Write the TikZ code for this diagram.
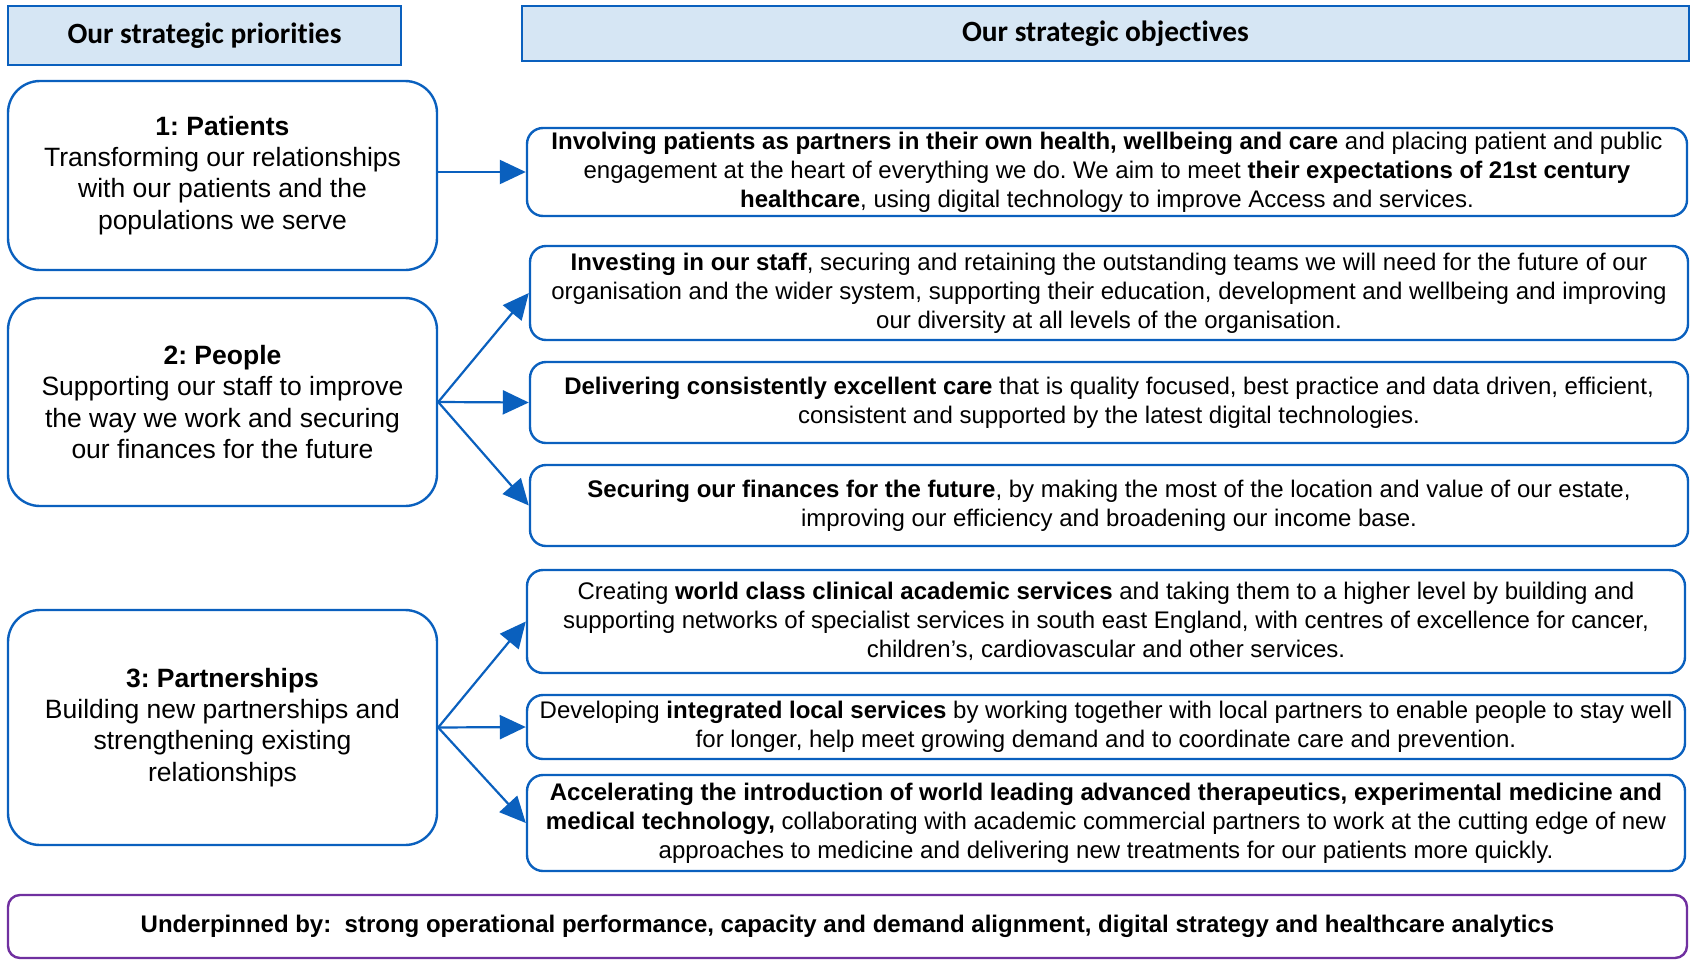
\documentclass[tikz,border=0pt]{standalone}
\usepackage{fontspec}
\setmainfont{Liberation Sans}
\newfontfamily\headfont[Ligatures=NoCommon]{Carlito}
\usetikzlibrary{arrows.meta,positioning}
\definecolor{planblue}{HTML}{0A60BE}
\definecolor{headfill}{HTML}{D6E6F4}
\definecolor{planpurple}{HTML}{7030A0}
\frenchspacing

\begin{document}
\begin{tikzpicture}[
    x=0.5pt,y=-0.5pt,
    every node/.style={align=center,inner sep=0pt},
    headbox/.style={draw=planblue,line width=1.3pt,fill=headfill,
                    font=\headfont\bfseries\fontsize{14.7}{17}\selectfont},
    priobox/.style={draw=planblue,line width=1.2pt,rounded corners=16pt,
                    minimum width=214.5pt,font=\fontsize{13.25}{15.6}\selectfont},
    objbox/.style={draw=planblue,line width=1.2pt,rounded corners=8pt,
                   font=\fontsize{12}{14.5}\selectfont},
    basebox/.style={draw=planpurple,line width=1.2pt,rounded corners=6pt,
                    font=\bfseries\fontsize{12}{14.5}\selectfont},
    arr/.style={-{Triangle[length=13pt,width=12pt]},line width=1.1pt,draw=planblue}
]
\useasboundingbox (0,0) rectangle (1692,964);
% headings
\node[headbox,minimum width=196.5pt,minimum height=29.5pt] (prihead) at (204.5,35.5) {Our strategic priorities};
\node[headbox,minimum width=583.5pt,minimum height=27.5pt] (objhead) at (1105.5,33.5) {Our strategic objectives};
% priorities
\node[priobox,minimum height=94.5pt] (patients) at (222.5,175.5)
  {\textbf{1: Patients}\\Transforming our relationships\\with our patients and the\\populations we serve};
\node[priobox,minimum height=104pt] (people) at (222.5,402)
  {\textbf{2: People}\\Supporting our staff to improve\\the way we work and securing\\our finances for the future};
\node[priobox,minimum height=117.5pt] (partners) at (222.5,727.5)
  {\textbf{3: Partnerships}\\Building new partnerships and\\strengthening existing\\relationships};
% objectives
\node[objbox,minimum width=580pt,minimum height=44pt] (involve) at (1107,172)
  {\textbf{Involving patients as partners in their own health, wellbeing and care} and placing patient and public\\
   engagement at the heart of everything we do. We aim to meet \textbf{their expectations of 21st century}\\
   \textbf{healthcare}, using digital technology to improve Access and services.};
\node[objbox,minimum width=579pt,minimum height=47pt] (staff) at (1109,293)
  {\textbf{Investing in our staff}, securing and retaining the outstanding teams we will need for the future of our\\
   organisation and the wider system, supporting their education, development and wellbeing and improving\\
   our diversity at all levels of the organisation.};
\node[objbox,minimum width=579pt,minimum height=40.5pt] (care) at (1109,402.5)
  {\textbf{Delivering consistently excellent care} that is quality focused, best practice and data driven, efficient,\\
   consistent and supported by the latest digital technologies.};
\node[objbox,minimum width=579pt,minimum height=40.5pt] (finance) at (1109,505.5)
  {\textbf{Securing our finances for the future}, by making the most of the location and value of our estate,\\
   improving our efficiency and broadening our income base.};
\node[objbox,minimum width=579pt,minimum height=51.5pt] (academic) at (1106,621.5)
  {Creating \textbf{world class clinical academic services} and taking them to a higher level by building and\\
   supporting networks of specialist services in south east England, with centres of excellence for cancer,\\
   children’s, cardiovascular and other services.};
\node[objbox,minimum width=579pt,minimum height=32pt] (local) at (1106,727)
  {Developing \textbf{integrated local services} by working together with local partners to enable people to stay well\\
   for longer, help meet growing demand and to coordinate care and prevention.};
\node[objbox,minimum width=579pt,minimum height=48pt] (research) at (1106,823)
  {\textbf{Accelerating the introduction of world leading advanced therapeutics, experimental medicine and}\\
   \textbf{medical technology,} collaborating with academic commercial partners to work at the cutting edge of new\\
   approaches to medicine and delivering new treatments for our patients more quickly.};
% foundation
\node[basebox,minimum width=839.5pt,minimum height=31.5pt] (under) at (847.5,926.5)
  {Underpinned by:\ \ strong operational performance, capacity and demand alignment, digital strategy and healthcare analytics};
% links
\draw[arr] (patients.east |- involve.west) -- (involve.west);
\foreach \obj in {staff,care,finance}
  \draw[arr] (people.east) -- (\obj.west);
\foreach \obj in {academic,local,research}
  \draw[arr] (partners.east) -- (\obj.west);
\end{tikzpicture}
\end{document}
